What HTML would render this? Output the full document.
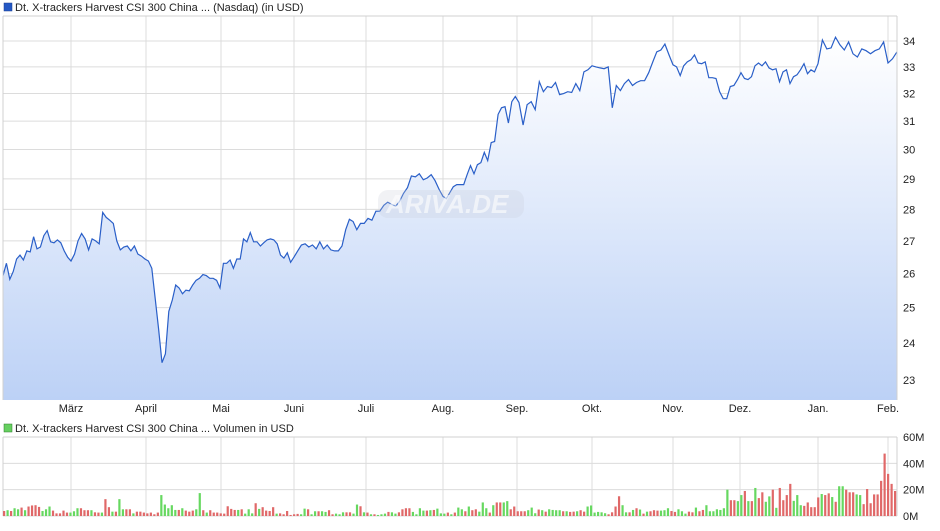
<!DOCTYPE html>
<html><head><meta charset="utf-8"><style>
body{margin:0;background:#fff;width:940px;height:526px;overflow:hidden}
svg text{font-family:"Liberation Sans",Arial,sans-serif;font-size:11px;fill:#222}
</style></head><body>
<svg id="c" width="940" height="526">
<defs><linearGradient id="fg" x1="0" y1="0" x2="0" y2="1"><stop offset="0" stop-color="#ffffff"/><stop offset="1" stop-color="#bcd1f6"/></linearGradient></defs>
<g id="grid"></g><g id="area"></g><g id="axes"></g><g id="vol"></g>
<rect x="4" y="3" width="8" height="8" fill="#2458c4" stroke="#1a3f90" stroke-width="0.5"/>
<text x="15" y="11">Dt. X-trackers Harvest CSI 300 China ... (Nasdaq) (in USD)</text>
<rect x="4" y="424" width="8" height="8" fill="#66d060" stroke="#2a7a2a" stroke-width="0.5"/>
<text x="15" y="432">Dt. X-trackers Harvest CSI 300 China ... Volumen in USD</text>
<rect x="378" y="190" width="146" height="28" rx="10" fill="#c8cdd6" opacity="0.25"/>
<text x="386" y="213" style="font-size:26px;font-weight:bold;font-style:italic;fill:#fff;opacity:0.6">ARIVA.DE</text>
</svg>
<script>
const prices=[25.94,26.31,25.83,26.06,26.44,26.56,26.41,26.69,26.66,27.13,26.75,26.81,27.16,27.32,26.97,26.94,27.03,26.94,26.69,26.5,26.38,26.59,27.0,27.23,27.06,26.72,27.06,27.0,26.91,27.9,27.74,27.65,27.55,27.0,26.72,26.81,26.84,26.69,26.84,26.59,26.53,26.44,26.38,26.16,25.26,24.39,23.46,23.7,24.89,25.22,25.66,25.57,25.4,25.51,25.49,25.66,25.8,25.86,25.97,25.94,25.86,25.86,25.8,25.57,26.31,26.31,26.41,26.16,26.44,26.44,27.06,26.97,27.26,26.97,26.97,26.84,26.94,27.03,27.06,27.03,26.91,26.56,26.47,26.63,26.34,26.5,26.69,26.87,26.91,26.81,26.87,26.75,26.97,26.75,26.87,26.72,26.69,26.69,26.84,27.35,27.68,27.61,27.35,27.55,27.55,27.71,27.65,27.94,27.94,28.13,28.23,28.16,28.1,28.26,28.52,28.71,29.1,29.07,29.17,28.97,29.03,29.14,28.94,28.65,28.42,28.35,28.55,28.74,28.81,28.81,28.81,29.14,29.45,29.17,29.48,29.55,29.9,29.62,30.24,30.28,31.24,31.48,31.52,30.93,31.7,31.89,31.67,30.86,31.59,31.7,31.41,32.44,32.07,32.26,32.22,32.41,31.96,32.0,32.07,32.04,32.37,32.11,32.81,32.89,33.04,33.0,32.96,32.93,33.0,31.48,32.3,32.11,32.37,32.52,32.3,32.41,32.48,32.48,32.78,33.19,33.58,33.65,33.88,33.46,33.08,33.0,32.67,33.04,33.19,33.27,33.46,33.15,33.12,33.19,32.59,32.59,32.56,32.07,31.81,31.81,32.26,32.3,32.52,32.78,32.56,32.52,32.63,33.04,33.15,33.04,33.19,32.96,32.89,32.93,32.44,32.81,32.89,32.37,32.63,32.7,32.89,33.12,32.74,32.89,32.81,33.12,34.04,33.69,33.73,34.15,33.85,33.65,33.96,33.5,33.38,33.69,33.62,33.5,33.62,33.69,33.96,33.15,33.31,33.58];
const volumes=[3.8,4.4,3.8,5.9,5.1,6.4,4.4,7.2,8,8.2,6.9,3.8,5.1,7.2,4.1,2,2,4.1,2.6,2.6,3.6,5.9,5.9,4.4,4.4,4.4,2.8,2.6,2.6,12.8,6.7,3.3,3.3,12.8,5.1,5.1,5.1,2,3.3,3.3,2.6,2,2.6,1.3,2.6,15.9,8.7,5.9,8.2,4.6,4.6,5.9,4.1,3.3,4.1,5.1,17.4,4.4,2.6,4.4,2.6,2.6,2,1.8,7.4,5.4,4.6,4.6,5.1,1.8,5.1,2,9.7,5.4,6.7,4.1,3.8,6.7,1.8,2,1.3,3.8,0.8,1.3,1.6,1.3,5.6,5.1,1.3,3.6,3.6,3.6,3.1,4.4,1.3,1.8,1.3,2.8,2.8,2.8,1.8,8.7,7.4,2.8,2.6,1.3,1.3,0.8,1.3,1.8,3.1,2.8,1.8,2.8,5.1,5.9,5.9,3.1,1.3,5.9,4.1,4.1,4.4,4.6,5.6,2,1.8,2.6,1.3,2.6,6.4,5.1,3.6,7.2,4.4,5.1,3.3,10.3,5.9,2.6,8.2,10.3,10.3,10.3,11.3,5.1,7.2,3.6,3.6,3.6,4.4,6.4,2.1,4.9,4.4,3.3,5.1,4.6,4.4,4.4,3.6,3.6,3.1,3.3,3.6,4.4,3.3,7.2,8,2.6,3.1,2.8,2.1,1.3,2.8,7.2,15,8.2,2.8,2.8,4.6,5.9,4.9,1.8,3.3,3.6,4.4,4.1,4.1,4.4,5.9,3.8,3.1,5.1,3.6,1.8,3.3,2.8,6.4,3.6,4.6,8.2,3.6,3.6,5.1,4.6,5.9,20,12,12,11.3,15.9,19,11.3,11.3,21.3,13.6,18,10.8,14.9,20,6.2,21.3,12,15.9,24.4,11.5,15.9,8.2,7.7,10.3,6.7,6.7,14.1,16.7,15.9,17.2,14.4,10.8,22.6,22.6,20,18,18,16.4,15.9,9,20.5,9.7,16.4,16.4,26.7,47.4,32,24.4,19];
const volColors="rgrggrgrrrrgggrrrrrgggrrrgrrgrrgrggrrgrrrrrrrgggggrgrrrggrgrrrrrrrrgrgggrgrrrrgrrrrrrggrggrggrrgggrrggrgrgrgggrggrrrrggggrgrgggrgrggrgrrgggrgrrggrrrrrgggrgrggggrgrrgrrggggggrrrrggrgrgrgrrrgggrrgggrrgrrgggggggrrggrgrgrrggrgrrrrgggrrrrrgrrgrggrrrgg";
const priceTicks=[23,24,25,26,27,28,29,30,31,32,33,34];
const monthLabels=["März","April","Mai","Juni","Juli","Aug.","Sep.","Okt.","Nov.","Dez.","Jan.","Feb."];
const monthIndex=[20,41.3,63.3,85,104.5,124,145.5,164,184,202.7,225,241];
const volTicks=[0,20,40,60];

const NS="http://www.w3.org/2000/svg";
const X0=3,X1=897,Y0=16,Y1=400,VY0=437,VY1=516;
// layout anchors: pixel x of month gridlines
const anchorX=[71,146,221,294,366,443,517,592,673,740,818,888];
const aI=[0].concat(monthIndex,[prices.length-1]);
const aX=[X0].concat(anchorX,[X1]);
function xI(i){for(let k=0;k<aI.length-1;k++){if(i<=aI[k+1]){return aX[k]+(aX[k+1]-aX[k])*(i-aI[k])/(aI[k+1]-aI[k]);}}return X1;}
const yP=p=>41+867*Math.log(34/p);
const xV=i=>X0+1+(X1-X0-3)*i/(volumes.length-1);
const yV=v=>VY1-(VY1-VY0)*v/60;
function mk(t,a,parent){const e=document.createElementNS(NS,t);for(const k in a)e.setAttribute(k,a[k]);document.getElementById(parent).appendChild(e);return e;}
priceTicks.forEach(t=>{
 const l=mk('line',{x1:X0,x2:X1,y1:yP(t),y2:yP(t),stroke:'#dcdcdc'},'grid');
 
 
 const tx=mk('text',{x:903,y:yP(t)+4},'axes');tx.textContent=t;
 
 
});
monthIndex.forEach((mi,k)=>{
 const x=xI(mi);
 const l=mk('line',{x1:x,x2:x,y1:Y0,y2:Y1,stroke:'#dcdcdc'},'grid');
 
 
 const l2=mk('line',{x1:x,x2:x,y1:VY0,y2:VY1,stroke:'#dcdcdc'},'grid');
 
 
 const tx=mk('text',{x:x,y:412,'text-anchor':'middle'},'axes');tx.textContent=monthLabels[k];
 
 
});
volTicks.forEach(t=>{
 const l=mk('line',{x1:X0,x2:X1,y1:yV(t),y2:yV(t),stroke:'#dcdcdc'},'grid');
 
 
 const tx=mk('text',{x:903,y:yV(t)+4},'axes');tx.textContent=t+'M';
 
 
});
[[X0,Y0,X0,Y1],[X1,Y0,X1,Y1],[X0,VY0,X0,VY1],[X1,VY0,X1,VY1],[X0,Y0,X1,Y0],[X0,VY0,X1,VY0]].forEach(c=>{
 const l=mk('line',{x1:c[0],y1:c[1],x2:c[2],y2:c[3],stroke:'#d0d0d0'},'axes');
 
 
});
let d='';prices.forEach((p,i)=>{d+=(i?'L':'M')+xI(i).toFixed(1)+','+yP(p).toFixed(1);});
const ar=mk('path',{d:d+`L${X1},${Y1}L${X0},${Y1}Z`,fill:'url(#fg)'},'area');


const ln=mk('path',{d:d,fill:'none',stroke:'#2a5fc8','stroke-width':1.2},'area');


volumes.forEach((v,i)=>{
 const c=volColors[i]==='g'?'#66d860':'#e06868';
 const b=mk('rect',{x:xV(i)-1,y:yV(v),width:2.2,height:VY1-yV(v),fill:c},'vol');
 
 
});
</script>
</body></html>
